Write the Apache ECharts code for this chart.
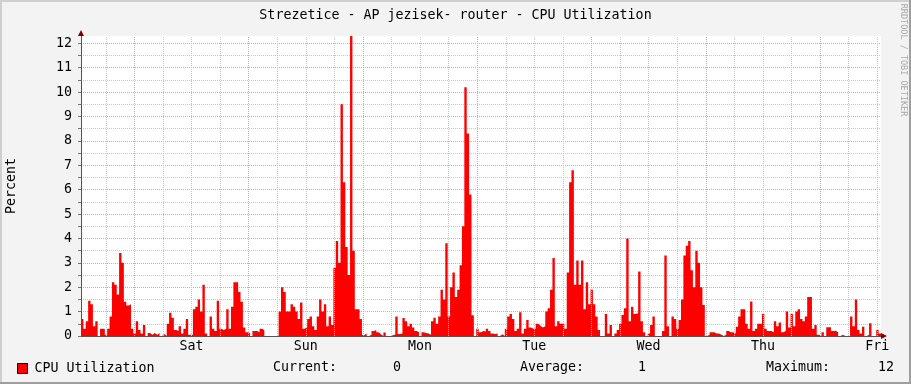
<!DOCTYPE html>
<html>
<head>
<meta charset="utf-8">
<script src="https://cdn.jsdelivr.net/npm/echarts@6/dist/echarts.min.js"></script>
<style>
html,body{margin:0;padding:0;background:#f3f3f3;}
#chart{width:911px;height:384px;}
</style>
</head>
<body>
<div id="chart"></div>
<script>
// ---- data ----
const titleText = 'Strezetice - AP jezisek- router - CPU Utilization';
const seriesName = 'CPU Utilization';
const yAxisName = 'Percent';
const dayLabels = ['Sat', 'Sun', 'Mon', 'Tue', 'Wed', 'Thu', 'Fri'];
// hours relative to Saturday 00:00
const dayLabelHours = [12, 36, 60, 84, 108, 132, 156];
const gridHours = [-6, 0, 6, 12, 18, 24, 30, 36, 42, 48, 54, 60, 66, 72, 78, 84, 90, 96, 102, 108, 114, 120, 126, 132, 138, 144, 150, 156];
const midnightHours = [0, 24, 48, 72, 96, 120, 144];
const startHour = -11.2;
const stepHours = 0.5;
const yTicks = [0, 1, 2, 3, 4, 5, 6, 7, 8, 9, 10, 11, 12];
// CPU utilization (%), one value per 30 minutes
const cpu = [
  0.7, 0.3, 0.6, 1.45, 1.3, 0.4, 0.6, 0, 0.3, 0.3,
  0.05, 0.3, 0.8, 2.2, 2.1, 1.7, 3.4, 3.0, 1.4, 1.25,
  1.3, 0.3, 0.1, 0.6, 0.25, 0.1, 0.45, 0, 0.12, 0.05,
  0.12, 0.05, 0.12, 0, 0.08, 0, 0.5, 0.95, 0.75, 0.25,
  0.2, 0.4, 0.1, 0.3, 0.7, 0.05, 0.05, 1.1, 1.2, 1.5,
  1.0, 2.1, 0.1, 0, 0.8, 0.3, 0.2, 1.45, 0.3, 0.25,
  0.3, 1.1, 0.3, 1.2, 2.2, 2.2, 1.8, 1.4, 0.35, 0.15,
  0.12, 0, 0.2, 0.2, 0.15, 0.3, 0.25, 0, 0, 0,
  0, 0, 0, 1.0, 2.0, 1.8, 1.0, 1.0, 1.3, 1.2,
  1.0, 0.7, 1.37, 0.3, 0.38, 0.7, 0.8, 0.4, 0.25, 0.8,
  1.5, 1.0, 1.3, 0.4, 0.8, 0.45, 2.8, 3.9, 3.0, 9.5,
  6.3, 3.65, 2.5, 12.3, 3.5, 1.1, 1.1, 0.7, 0.04, 0.1,
  0, 0.05, 0.2, 0.25, 0.15, 0.07, 0, 0.14, 0, 0,
  0.03, 0.06, 0.8, 0.08, 0.1, 0.74, 0.6, 0.4, 0.5, 0.35,
  0.2, 0.15, 0, 0.15, 0.12, 0.1, 0.05, 0.6, 0.75, 0.5,
  0.8, 1.9, 1.5, 3.8, 0.8, 2.0, 2.6, 1.6, 1.9, 2.9,
  4.5, 10.2, 8.3, 5.8, 0.85, 0, 0.3, 0.15, 0.2, 0.18,
  0.3, 0.2, 0.1, 0.08, 0.1, 0, 0.07, 0, 0.3, 0.8,
  0.9, 0.7, 0.2, 0.3, 0.97, 0.1, 0.3, 0.66, 0.35, 0.3,
  0.3, 0.5, 0.42, 0.35, 0.4, 1.0, 1.14, 1.9, 3.2, 0.4,
  0.6, 0.5, 0.5, 0.3, 2.6, 6.3, 6.8, 2.1, 3.1, 2.1,
  3.1, 1.1, 2.2, 1.3, 1.9, 1.3, 0.8, 0.25, 0, 0,
  0.9, 0.1, 0.45, 0, 0.1, 0.25, 0.5, 0.86, 1.14, 4.0,
  0.6, 1.2, 0.9, 0.93, 2.64, 0.6, 0.15, 0, 0.1, 0.45,
  0.8, 0, 0, 0, 0.2, 3.3, 0.4, 0, 0.8, 0.7,
  0.3, 0.66, 1.5, 3.3, 3.7, 3.9, 2.7, 2.0, 3.5, 3.0,
  2.0, 1.27, 0, 0.05, 0.15, 0.15, 0.1, 0.1, 0.05, 0,
  0.05, 0.2, 0.15, 0.15, 0.1, 0.38, 0.8, 1.1, 1.1, 0.5,
  0.3, 1.41, 0.2, 0.3, 0.5, 0.5, 0.9, 0.3, 0.2, 0.2,
  0.15, 0.6, 0.4, 0.55, 0.15, 0.2, 1.0, 0.35, 0.9, 0.4,
  1.0, 1.1, 0.7, 0.6, 0.8, 1.6, 1.6, 0.3, 0.45, 0.05,
  0, 0.15, 0, 0.36, 0.36, 0.2, 0.22, 0.15, 0, 0.05,
  0, 0, 0, 0.8, 0.4, 1.5, 0.25, 0.1, 0.38, 0,
  0.05, 0.52, 0, 0, 0.25, 0.1
];

// ---- build ----
const FONT = '"DejaVu Sans Mono", monospace';
const FS = 13.3;
const endHour = startHour + cpu.length * stepHours;
const seriesData = cpu.map((v, i) => [startHour + i * stepHours, v]);
seriesData.push([endHour, cpu[cpu.length - 1]]);

const current = cpu[cpu.length - 1];
const average = cpu.reduce((a, b) => a + b, 0) / cpu.length;
const maximum = Math.max.apply(null, cpu);

const GRID_L = 81, GRID_T = 36, GRID_W = 800, GRID_H = 300;
const gray = '#c6c6c6', pink = '#e6a0a0';

const vGridLines = gridHours.map(h => ({
  xAxis: h,
  lineStyle: {color: midnightHours.indexOf(h) >= 0 ? pink : gray, width: 1, type: [1, 1]}
}));

const chart = echarts.init(document.getElementById('chart'), null, {renderer: 'canvas'});
chart.setOption({
  animation: false,
  backgroundColor: '#f3f3f3',
  textStyle: {fontFamily: FONT},
  title: {
    text: titleText, left: 'center', top: 4,
    textStyle: {fontFamily: FONT, fontSize: FS, fontWeight: 'normal', color: '#000'}
  },
  legend: {
    left: 17, top: 362, itemWidth: 10, itemHeight: 10, padding: 0,
    icon: 'rect',
    textStyle: {fontFamily: FONT, fontSize: FS, color: '#000', padding: [0, 0, 0, 2]},
    data: [{name: seriesName, itemStyle: {color: '#ff0000', borderColor: '#000', borderWidth: 1}}]
  },
  grid: {
    left: GRID_L, top: GRID_T, width: GRID_W, height: GRID_H,
    containLabel: false, outerBoundsMode: 'none',
    show: true, backgroundColor: '#ffffff', borderWidth: 0
  },
  xAxis: {
    type: 'value', min: startHour, max: endHour,
    axisLine: {show: true, onZero: false, lineStyle: {color: '#555', width: 1}},
    axisTick: {show: false},
    axisLabel: {
      customValues: dayLabelHours, margin: 4,
      fontFamily: FONT, fontSize: FS, color: '#000',
      formatter: v => { const k = dayLabelHours.indexOf(v); return k >= 0 ? dayLabels[k] : ''; }
    },
    splitLine: {show: false}
  },
  yAxis: {
    type: 'value', min: 0, max: 12.3, interval: 0.5,
    name: yAxisName, nameLocation: 'middle', nameGap: 63, nameRotate: 90, nameMoveOverlap: false,
    nameTextStyle: {fontFamily: FONT, fontSize: FS, color: '#000'},
    axisLine: {show: true, onZero: false, lineStyle: {color: '#555', width: 1}},
    axisTick: {show: true, length: 3, lineStyle: {color: '#777'}},
    axisLabel: {
      margin: 9, fontFamily: FONT, fontSize: FS, color: '#000', showMaxLabel: false,
      formatter: v => (yTicks.indexOf(v) >= 0 ? String(v) : '')
    },
    splitLine: {show: true, showMaxLine: false, lineStyle: {color: [pink, gray], width: 1, type: [1, 1]}}
  },
  series: [{
    name: 'grid', type: 'line', data: [], z: 1, silent: true,
    markLine: {silent: true, symbol: 'none', label: {show: false}, animation: false, data: vGridLines}
  }, {
    name: seriesName, type: 'line', step: 'end', data: seriesData,
    showSymbol: false, symbol: 'none', sampling: null,
    lineStyle: {width: 0, color: '#ff0000'},
    itemStyle: {color: '#ff0000'},
    areaStyle: {color: '#ff0000', opacity: 1},
    z: 3
  }],
  graphic: [
    {type: 'rect', shape: {x: 0, y: 0, width: 911, height: 2}, style: {fill: '#cfcfcf'}, silent: true},
    {type: 'rect', shape: {x: 0, y: 0, width: 2, height: 384}, style: {fill: '#cfcfcf'}, silent: true},
    {type: 'rect', shape: {x: 0, y: 382, width: 911, height: 2}, style: {fill: '#9e9e9e'}, silent: true},
    {type: 'rect', shape: {x: 909, y: 0, width: 2, height: 384}, style: {fill: '#9e9e9e'}, silent: true},
    {type: 'polygon', shape: {points: [[GRID_L - 3, GRID_T], [GRID_L + 3, GRID_T], [GRID_L, GRID_T - 6]]}, style: {fill: '#7f0000'}, z: 10, silent: true},
    {type: 'polygon', shape: {points: [[GRID_L + GRID_W, GRID_T + GRID_H - 3], [GRID_L + GRID_W, GRID_T + GRID_H + 3], [GRID_L + GRID_W + 6, GRID_T + GRID_H]]}, style: {fill: '#7f0000'}, z: 10, silent: true},
    {type: 'text', left: 273, top: 361, style: {text: 'Current:', font: FS + 'px ' + FONT, fill: '#000'}},
    {type: 'text', left: 393, top: 361, style: {text: current.toFixed(0), font: FS + 'px ' + FONT, fill: '#000'}},
    {type: 'text', left: 520, top: 361, style: {text: 'Average:', font: FS + 'px ' + FONT, fill: '#000'}},
    {type: 'text', left: 638, top: 361, style: {text: average.toFixed(0), font: FS + 'px ' + FONT, fill: '#000'}},
    {type: 'text', left: 766, top: 361, style: {text: 'Maximum:', font: FS + 'px ' + FONT, fill: '#000'}},
    {type: 'text', left: 878, top: 361, style: {text: maximum.toFixed(0), font: FS + 'px ' + FONT, fill: '#000'}},
    {type: 'text', x: 903, y: 60, rotation: -Math.PI / 2, style: {text: 'RRDTOOL / TOBI OETIKER', font: '8.5px ' + FONT, fill: '#a8a8a8', align: 'center', verticalAlign: 'middle'}}
  ]
});
</script>
</body>
</html>
